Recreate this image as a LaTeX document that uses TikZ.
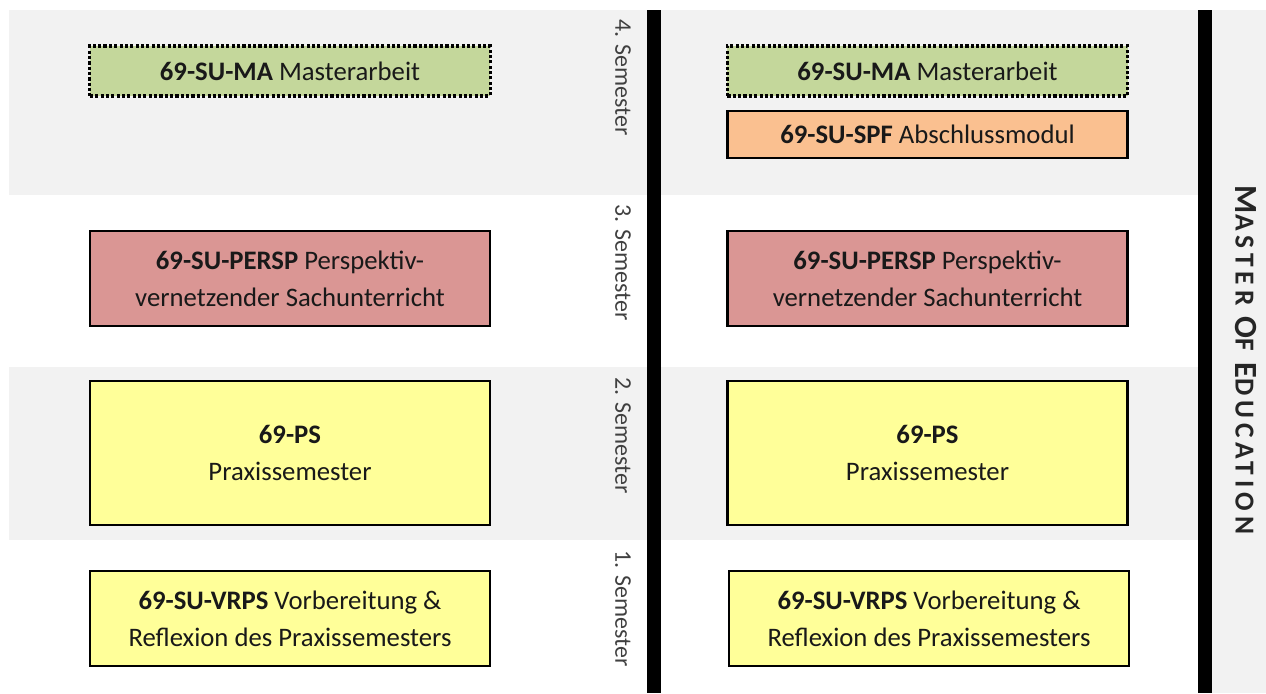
\documentclass[tikz,border=0pt]{standalone}
\usepackage{fontspec}
\setmainfont{Carlito}
\usetikzlibrary{%
  calc,%
  positioning%
}
\definecolor{bandgray}{HTML}{F2F2F2}
\definecolor{magreen}{HTML}{C4D79B}
\definecolor{spforange}{HTML}{FAC090}
\definecolor{perspred}{HTML}{DA9694}
\definecolor{psyellow}{HTML}{FFFF99}
\tikzset{>=latex,
  modul/.style={draw=black,line width=1.6pt,align=center,inner sep=0pt,
    minimum width=10cm,text=black!90,font=\fontsize{19}{26.5}\selectfont},
  dotmodul/.style={modul,line width=2.2pt,dash pattern=on 2.2pt off 1.6pt},
  semlabel/.style={rotate=-90,anchor=west,inner sep=0pt,text=black!75,
    font=\fontsize{17}{20}\selectfont},
  trenner/.style={line width=0.33cm,black}
}

\begin{document}
\begin{tikzpicture}[x=0.025cm,y=-0.025cm]
    \useasboundingbox (0,0) rectangle (1266,693);
    % semester bands
    \fill[bandgray] (9,10) rectangle (1205,195);
    \fill[bandgray] (9,367) rectangle (1205,540);
    \fill[bandgray] (1205,10) rectangle (1266,693);
    % separators
    \coordinate (lt) at (654,10);
    \coordinate (lb) at (654,693);
    \coordinate (rt) at (1205,10);
    \coordinate (rb) at (1205,693);
    \draw[trenner] (lt) -- (lb);
    \draw[trenner] (rt) -- (rb);
    % semester labels
    \node[semlabel] (sem4) at (623,19) {4. Semester};
    \node[semlabel] (sem3) at (623,204) {3. Semester};
    \node[semlabel] (sem2) at (623,377) {2. Semester};
    \node[semlabel] (sem1) at (623,550) {1. Semester};
    % left column
    \node[dotmodul,fill=magreen,minimum height=1.25cm] (maL) at (290,71)
    {\textbf{69-SU-MA} Masterarbeit};
    \node[modul,fill=perspred,minimum height=2.375cm] (perspL) at (290,278.5)
    {\textbf{69-SU-PERSP} Perspektiv-\\vernetzender Sachunterricht};
    \node[modul,fill=psyellow,minimum height=3.6cm] (psL) at (290,453)
    {\textbf{69-PS}\\Praxissemester};
    \node[modul,fill=psyellow,minimum height=2.375cm] (vrpsL) at (290,618.5)
    {\textbf{69-SU-VRPS} Vorbereitung \&\\Reflexion des Praxissemesters};
    % right column
    \node[dotmodul,fill=magreen,minimum height=1.25cm] (maR) at (927.5,71)
    {\textbf{69-SU-MA} Masterarbeit};
    \node[modul,fill=spforange,minimum height=1.175cm] (spfR) at (927.5,134.5)
    {\textbf{69-SU-SPF} Abschlussmodul};
    \node[modul,fill=perspred,minimum height=2.375cm] (perspR) at (927.5,278.5)
    {\textbf{69-SU-PERSP} Perspektiv-\\vernetzender Sachunterricht};
    \node[modul,fill=psyellow,minimum height=3.6cm] (psR) at (927.5,453)
    {\textbf{69-PS}\\Praxissemester};
    \node[modul,fill=psyellow,minimum height=2.375cm] (vrpsR) at (929,618.5)
    {\textbf{69-SU-VRPS} Vorbereitung \&\\Reflexion des Praxissemesters};
    % degree
    \node[rotate=-90,inner sep=0pt,text=black!85,
    font=\bfseries\addfontfeature{LetterSpace=18}] (degree) at (1246,360)
    {\fontsize{23}{24}\selectfont M\fontsize{19.5}{24}\selectfont ASTER
    \fontsize{23}{24}\selectfont O\fontsize{19.5}{24}\selectfont F
    \fontsize{23}{24}\selectfont E\fontsize{19.5}{24}\selectfont DUCATION};
  \end{tikzpicture}
\end{document}
